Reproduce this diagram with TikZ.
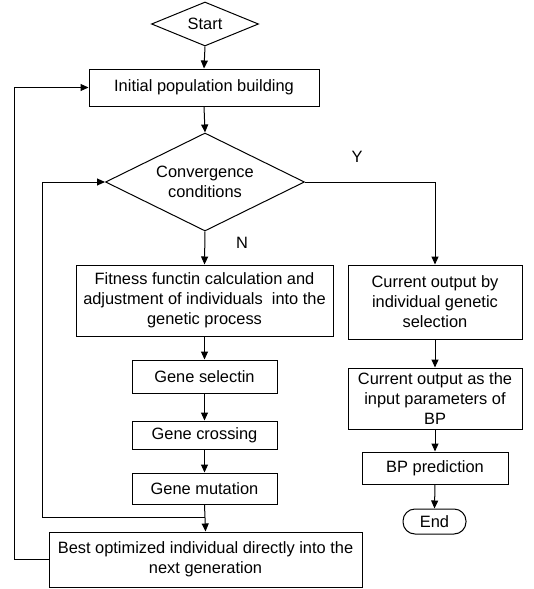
\documentclass[tikz,border=0pt]{standalone}
\usepackage{fontspec}
\setmainfont{Liberation Sans}
\usetikzlibrary{shapes.geometric,arrows.meta}
\begin{document}
\begin{tikzpicture}[x=1pt,y=1pt,
  every node/.style={font=\fontsize{16.4}{20}\selectfont},
  box/.style={draw,line width=1pt,rectangle,inner sep=0pt,align=center},
  dia/.style={draw,line width=1pt,diamond,aspect=2,inner sep=0pt,align=center},
  term/.style={draw,line width=1pt,rectangle,rounded corners=12pt,inner sep=0pt},
  arr/.style={line width=1pt,-{Triangle[length=8pt,width=7pt]}},
  ln/.style={line width=1pt}]
\useasboundingbox (0,0) rectangle (533,-589);
\node[dia,minimum width=107,minimum height=44] (start) at (205,-24) {Start};
\node[box,minimum width=230,minimum height=37] (init) at (204,-87.5) {Initial population building};
\node[dia,minimum width=199,minimum height=98] (conv) at (205,-182) {Convergence\\conditions};
\node[box,minimum width=257,minimum height=71] (fit) at (204.5,-300.5) {Fitness functin calculation and\\adjustment of individuals~ into the\\genetic process};
\node[box,minimum width=174,minimum height=74] (cur1) at (435,-302) {Current output by\\individual genetic\\selection};
\node[box,minimum width=145,minimum height=33] (sel) at (204.5,-376.5) {Gene selectin};
\node[box,minimum width=145,minimum height=28] (cross) at (204.5,-435) {Gene crossing};
\node[box,minimum width=145,minimum height=31] (mut) at (204.5,-488.5) {Gene mutation};
\node[box,minimum width=313,minimum height=55] (best) at (205.5,-559.5) {Best optimized individual directly into the\\next generation};
\node[box,minimum width=174,minimum height=61] (cur2) at (435,-398.5) {Current output as the\\input parameters of\\BP};
\node[box,minimum width=146,minimum height=32] (bp) at (435,-468) {BP prediction};
\node[term,minimum width=63,minimum height=25] (end) at (434.5,-521.5) {End};
\node (ylab) at (357,-157) {Y};
\node (nlab) at (242,-243) {N};
\coordinate (merge) at (205,-517);
\coordinate (yc) at (435,-182);
\draw[arr] (start.south) -- (init.north);
\draw[arr] (init.south) -- (conv.north);
\draw[arr] (conv.south) -- (fit.north);
\draw[arr] (conv.east) -- (yc) -- (cur1.north);
\draw[arr] (fit.south) -- (sel.north);
\draw[arr] (sel.south) -- (cross.north);
\draw[arr] (cross.south) -- (mut.north);
\draw[arr] (mut.south) -- (best.north);
\draw[arr] (merge) -- (42,-517) -- (42,-182) -- (conv.west);
\draw[arr] (best.west) -- (14,-559.5) -- (14,-87.5) -- (init.west);
\draw[arr] (cur1.south) -- (cur2.north);
\draw[arr] (cur2.south) -- (bp.north);
\draw[arr] (bp.south) -- (end.north);
\end{tikzpicture}
\end{document}
